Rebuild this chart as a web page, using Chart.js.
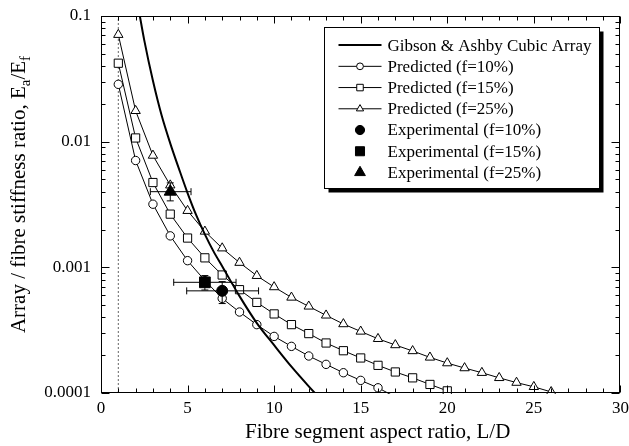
<!DOCTYPE html>
<html><head><meta charset="utf-8">
<script src="https://cdn.jsdelivr.net/npm/chart.js@4.4.1/dist/chart.umd.min.js"></script>
<style>html,body{margin:0;padding:0;background:#fff;}#wrap{width:629px;height:446px;}</style>
</head><body><div id="wrap"><canvas id="c" width="629" height="446"></canvas></div>
<script>
// ---- data ----
const predX10 = [1,2,3,4,5,6,7,8,9,10,11,12,13,14,15,16,17];
const pred10  = [0.0286,0.00708,0.00318,0.00178,0.00113,0.000785,0.000566,0.000441,0.000350,0.000282,0.000235,0.000197,0.000169,0.000145,0.000126,0.000110,0.000093];
const predX15 = [1,2,3,4,5,6,7,8,9,10,11,12,13,14,15,16,17,18,19,20];
const pred15  = [0.0421,0.0107,0.00473,0.00265,0.00171,0.00119,0.000869,0.000664,0.000526,0.000426,0.000350,0.000297,0.000250,0.000217,0.000190,0.000166,0.000147,0.000132,0.000117,0.000104];
const predX25 = [1,2,3,4,5,6,7,8,9,10,11,12,13,14,15,16,17,18,19,20,21,22,23,24,25,26];
const pred25  = [0.0710,0.0176,0.00776,0.00450,0.00282,0.00193,0.00142,0.00109,0.000857,0.000697,0.000576,0.000489,0.000415,0.000354,0.000309,0.000270,0.000241,0.000216,0.000192,0.000173,0.000158,0.000145,0.000132,0.000121,0.000112,0.000102];
const gibsonX = [2.2,2.5,3,3.5,4,4.5,5,5.5,6,6.5,7,8,9,10,11,12,12.6];
const gibsonY = [0.108,0.064,0.0305,0.0162,0.0097,0.0061,0.0039,0.0026,0.00183,0.00134,0.00102,0.00059,0.00036,0.00024,0.000162,0.000113,0.000092];
const expX10 = [7],   expY10 = [0.00065], expXLo10 = [4.95], expXHi10 = [9.1],  expYLo10 = [0.000515], expYHi10 = [0.00077];
const expX15 = [6],   expY15 = [0.00076], expXLo15 = [4.2],  expXHi15 = [7.8],  expYLo15 = [0.00066],  expYHi15 = [0.00086];
const expX25 = [4],   expY25 = [0.0040],  expXLo25 = [2.85], expXHi25 = [5.2],  expYLo25 = [0.00338],  expYHi25 = [0.0047];
const refLineX = [1,1];
const refLineY = [0.0001,0.1];
const xTickValues = [0,5,10,15,20,25,30];
const xTickLabels = ['0','5','10','15','20','25','30'];
const yTickValues = [0.0001,0.001,0.01,0.1];
const yTickLabels = ['0.0001','0.001','0.01','0.1'];
const labels = ['Gibson & Ashby Cubic Array','Predicted (f=10%)','Predicted (f=15%)','Predicted (f=25%)','Experimental (f=10%)','Experimental (f=15%)','Experimental (f=25%)'];
const xTitle = 'Fibre segment aspect ratio, L/D';

const FONT = '"Liberation Serif", "Times New Roman", serif';
const pts = (xs, ys) => xs.map((x, i) => ({x, y: ys[i]}));
const predClip = {left: 10, top: 0, right: 10, bottom: 1};
const hideBelow = r => ctx => (ctx.raw && ctx.raw.y < 0.0001) ? 0 : r;

const datasets = [
  {label: labels[4], data: pts(expX10, expY10), showLine: false, pointStyle: 'circle', pointRadius: 5.5, backgroundColor: '#000', borderColor: '#000', borderWidth: 1, order: 0,
    err: {xlo: expXLo10, xhi: expXHi10, ylo: expYLo10, yhi: expYHi10}},
  {label: labels[5], data: pts(expX15, expY15), showLine: false, pointStyle: 'rect', pointRadius: 7.6, backgroundColor: '#000', borderColor: '#000', borderWidth: 1, order: 0,
    err: {xlo: expXLo15, xhi: expXHi15, ylo: expYLo15, yhi: expYHi15}},
  {label: labels[6], data: pts(expX25, expY25), showLine: false, pointStyle: 'triangle', pointRadius: 7, backgroundColor: '#000', borderColor: '#000', borderWidth: 1, order: 0,
    err: {xlo: expXLo25, xhi: expXHi25, ylo: expYLo25, yhi: expYHi25}},
  {label: labels[0], data: pts(gibsonX, gibsonY), showLine: true, pointRadius: 0, borderColor: '#000', borderWidth: 2, cubicInterpolationMode: 'monotone', order: 1, clip: 0},
  {label: labels[1], data: pts(predX10, pred10), showLine: true, pointStyle: 'circle', pointRadius: hideBelow(4.2), backgroundColor: '#fff', borderColor: '#000', borderWidth: 1, pointBorderWidth: 1, order: 2, clip: predClip},
  {label: labels[2], data: pts(predX15, pred15), showLine: true, pointStyle: 'rect', pointRadius: hideBelow(5.8), backgroundColor: '#fff', borderColor: '#000', borderWidth: 1, pointBorderWidth: 1, order: 2, clip: predClip},
  {label: labels[3], data: pts(predX25, pred25), showLine: true, pointStyle: 'triangle', pointRadius: hideBelow(5.4), backgroundColor: '#fff', borderColor: '#000', borderWidth: 1, pointBorderWidth: 1, order: 2, clip: predClip},
  {label: 'ref', data: pts(refLineX, refLineY), showLine: true, pointRadius: 0, borderColor: '#666', borderWidth: 1, borderDash: [2, 2], order: 3, clip: 0}
];

function line(ctx, x1, y1, x2, y2) { ctx.beginPath(); ctx.moveTo(x1, y1); ctx.lineTo(x2, y2); ctx.stroke(); }

const errorBars = {
  id: 'errorBars',
  beforeDatasetDraw(chart, args) {
    if (args.index !== 2) return;
    const {ctx, scales: {x, y}} = chart;
    ctx.save();
    ctx.strokeStyle = '#000'; ctx.lineWidth = 1;
    chart.data.datasets.forEach(ds => {
      if (!ds.err) return;
      ds.data.forEach((p, i) => {
        const px = x.getPixelForValue(p.x), py = y.getPixelForValue(p.y);
        const xl = x.getPixelForValue(ds.err.xlo[i]), xh = x.getPixelForValue(ds.err.xhi[i]);
        const yl = y.getPixelForValue(ds.err.ylo[i]), yh = y.getPixelForValue(ds.err.yhi[i]);
        const c = 3.5;
        line(ctx, xl, py, xh, py); line(ctx, xl, py - c, xl, py + c); line(ctx, xh, py - c, xh, py + c);
        line(ctx, px, yl, px, yh); line(ctx, px - c, yl, px + c, yl); line(ctx, px - c, yh, px + c, yh);
      });
    });
    ctx.restore();
  }
};

const frameTicks = {
  id: 'frameTicks',
  afterDatasetsDraw(chart) {
    const {ctx, chartArea: a, scales: {x, y}} = chart;
    ctx.save();
    ctx.strokeStyle = '#000'; ctx.lineWidth = 1;
    const L = Math.round(a.left) + 0.5, R = Math.round(a.right) - 0.5, T = Math.round(a.top) + 0.5, B = Math.round(a.bottom) - 0.5;
    ctx.strokeRect(L, T, R - L, B - T);
    for (let v = x.min; v <= x.max; v++) {
      const px = Math.round(x.getPixelForValue(v)) + 0.5;
      const len = v % 5 === 0 ? 7 : 4;
      line(ctx, px, B, px, B - len); line(ctx, px, T, px, T + len);
    }
    for (let e = -4; e <= -1; e++) {
      for (let m = 1; m <= 9; m++) {
        const v = m * Math.pow(10, e);
        if (v > y.max * 1.0001) continue;
        const py = Math.round(y.getPixelForValue(v)) + 0.5;
        const len = m === 1 ? 8 : 4;
        line(ctx, L, py, L + len, py); line(ctx, R, py, R - len, py);
      }
    }
    ctx.restore();
  },
  afterDraw(chart) {
    const {ctx, chartArea: a} = chart;
    ctx.save();
    // x title
    ctx.fillStyle = '#000';
    ctx.font = '21px ' + FONT;
    ctx.textAlign = 'center'; ctx.textBaseline = 'alphabetic';
    ctx.fillText(xTitle, (a.left + a.right) / 2 + 17, 438);
    // y title with subscripts
    ctx.translate(25, (a.top + a.bottom) / 2 - 10);
    ctx.rotate(-Math.PI / 2);
    const parts = [['Array / fibre stiffness ratio, E', 0], ['a', 1], ['/E', 0], ['f', 1]];
    const mf = '21px ' + FONT, sf = '15px ' + FONT;
    let w = 0;
    parts.forEach(p => { ctx.font = p[1] ? sf : mf; w += ctx.measureText(p[0]).width; });
    let cx = -w / 2;
    ctx.textAlign = 'left';
    parts.forEach(p => { ctx.font = p[1] ? sf : mf; ctx.fillText(p[0], cx, p[1] ? 5 : 0); cx += ctx.measureText(p[0]).width; });
    ctx.restore();
    // legend
    ctx.save();
    const lw = 275, lh = 161;
    const lx = Math.round(a.right) - 296 + 0.5, ly = Math.round(a.top) + 11 + 0.5;
    ctx.fillStyle = '#000';
    ctx.fillRect(lx + 4, ly + 4, lw, lh);
    ctx.fillStyle = '#fff';
    ctx.fillRect(lx, ly, lw, lh);
    ctx.strokeStyle = '#000'; ctx.lineWidth = 1;
    ctx.strokeRect(lx, ly, lw, lh);
    const order = [3, 4, 5, 6, 0, 1, 2];
    const ds = chart.data.datasets;
    ctx.font = '17px ' + FONT;
    ctx.textBaseline = 'middle'; ctx.textAlign = 'left';
    order.forEach((di, i) => {
      const d = ds[di];
      const ry = ly + 17.6 + i * 21.23;
      const s1 = lx + 14, s2 = lx + 57, mx = lx + 35.5;
      ctx.strokeStyle = '#000';
      if (d.showLine) { ctx.lineWidth = d.borderWidth; line(ctx, s1, ry, s2, ry); }
      if (d.pointStyle) {
        const filled = d.backgroundColor === '#000';
        ctx.fillStyle = d.backgroundColor; ctx.strokeStyle = '#000'; ctx.lineWidth = 1;
        const r = filled ? ({circle: 4.6, rect: 6.4, triangle: 6.2})[d.pointStyle] : ({circle: 3.4, rect: 4.6, triangle: 4.2})[d.pointStyle];
        Chart.helpers.drawPoint(ctx, {pointStyle: d.pointStyle, radius: r, borderWidth: 1, rotation: 0}, mx, ry);
      }
      ctx.fillStyle = '#000';
      ctx.fillText(d.label, lx + 63, ry + 1);
    });
    ctx.restore();
  }
};

new Chart(document.getElementById('c'), {
  type: 'scatter',
  data: {datasets},
  options: {
    responsive: false, animation: false, devicePixelRatio: 1,
    layout: {padding: {left: 0, top: 16, right: 8, bottom: 0}},
    plugins: {legend: {display: false}, tooltip: {enabled: false}},
    scales: {
      x: {
        type: 'linear', min: 0, max: 30,
        grid: {display: false, drawTicks: false}, border: {display: false},
        afterBuildTicks: s => { s.ticks = xTickValues.map(v => ({value: v})); },
        afterFit: s => { s.height = 53; s.paddingLeft = 0; s.paddingRight = 0; },
        ticks: {padding: 5, color: '#000', font: {family: FONT, size: 17}, maxRotation: 0,
          callback: (v) => xTickLabels[xTickValues.indexOf(v)]}
      },
      y: {
        type: 'logarithmic', min: 0.0001, max: 0.1,
        grid: {display: false, drawTicks: false}, border: {display: false},
        afterBuildTicks: s => { s.ticks = yTickValues.map(v => ({value: v})); },
        afterFit: s => { s.width = 101; s.paddingTop = 0; s.paddingBottom = 0; },
        ticks: {padding: 10, color: '#000', font: {family: FONT, size: 17},
          callback: (v, i) => yTickLabels[i]}
      }
    }
  },
  plugins: [errorBars, frameTicks]
});
</script>
</body></html>
